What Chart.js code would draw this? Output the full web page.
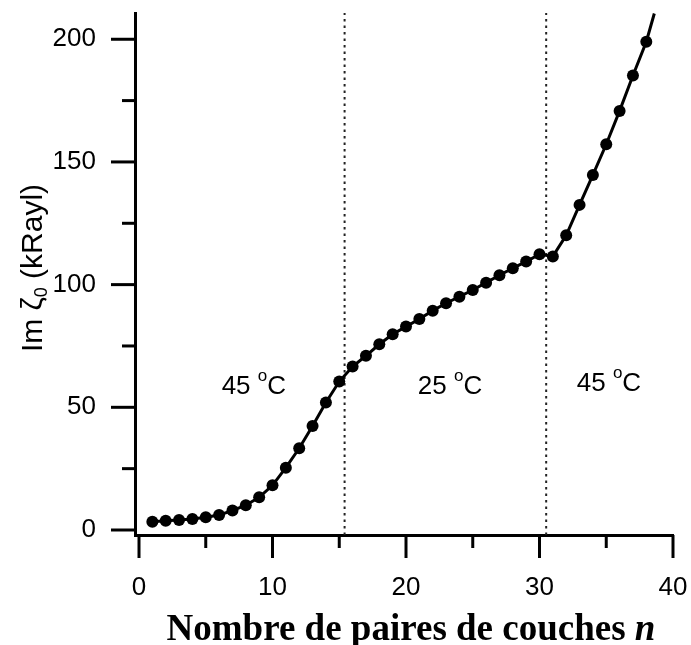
<!DOCTYPE html>
<html><head><meta charset="utf-8">
<script src="https://cdn.jsdelivr.net/npm/chart.js@4"></script>
<style>html,body{margin:0;padding:0;background:#fff;}</style>
</head><body>
<canvas id="c" width="691" height="645"></canvas>
<script>
// ---- data ----
const pairCounts = [1,2,3,4,5,6,7,8,9,10,11,12,13,14,15,16,17,18,19,20,21,22,23,24,25,26,27,28,29,30,31,32,33,34,35,36,37,38];
const imZeta = [3.4,3.8,4.1,4.5,5.2,6.1,7.9,10.1,13.3,18.2,25.4,33.3,42.4,52.0,60.5,66.6,71.0,75.7,79.8,82.9,86.0,89.4,92.4,95.1,97.8,100.8,103.8,106.7,109.4,112.4,111.5,120.1,132.5,144.7,157.2,170.8,185.2,199.0];
const curveEndX = 38.6;
const curveEndY = 210.5;
const regionBoundaries = [15.4, 30.5];
const xMajorTicks = [0,10,20,30,40];
const xMinorTicks = [5,15,25,35];
const yMajorTicks = [0,50,100,150,200];
const yMinorTicks = [25,75,125,175];
const xRange = [-0.3, 40];
const yRange = [-2.04, 210.7];
const tempValues = ['45','25','45'];
const tempLabelX = [8.6, 23.3, 35.2];
const tempLabelY = [59.1, 59.1, 60.4];
const xTitleMain = 'Nombre de paires de couches ';
const xTitleVar = 'n';
const yTitleParts = ['Im ζ', '0', ' (kRayl)'];

const SANS = "'Liberation Sans', Arial, sans-serif";
const SERIF = "'Liberation Serif', 'Times New Roman', serif";

const mainData = pairCounts.map((n, i) => ({x: n, y: imZeta[i]}));
mainData.push({x: curveEndX, y: curveEndY});

const boundaryDatasets = regionBoundaries.map(b => ({
  data: [{x: b, y: yRange[0]}, {x: b, y: yRange[1]}],
  showLine: true, borderColor: '#222', borderWidth: 2, borderDash: [2.5, 4],
  pointRadius: 0, fill: false
}));

const zeroPadding = s => { s.paddingTop = 0; s.paddingBottom = 0; s.paddingLeft = 0; s.paddingRight = 0; };

const decorPlugin = {
  id: 'decor',
  afterDraw(chart) {
    const ctx = chart.ctx;
    const xs = chart.scales.x, ys = chart.scales.y;
    const ca = chart.chartArea;
    ctx.save();
    ctx.strokeStyle = '#000';
    ctx.lineWidth = 3;
    ctx.lineCap = 'butt';
    // x ticks
    const xb = ca.bottom;
    xMajorTicks.forEach(v => { const p = xs.getPixelForValue(v); ctx.beginPath(); ctx.moveTo(p, xb); ctx.lineTo(p, xb + 23); ctx.stroke(); });
    xMinorTicks.forEach(v => { const p = xs.getPixelForValue(v); ctx.beginPath(); ctx.moveTo(p, xb); ctx.lineTo(p, xb + 13); ctx.stroke(); });
    // y ticks
    const yl = ca.left;
    yMajorTicks.forEach(v => { const p = ys.getPixelForValue(v); ctx.beginPath(); ctx.moveTo(yl, p); ctx.lineTo(yl - 24, p); ctx.stroke(); });
    yMinorTicks.forEach(v => { const p = ys.getPixelForValue(v); ctx.beginPath(); ctx.moveTo(yl, p); ctx.lineTo(yl - 13, p); ctx.stroke(); });

    ctx.fillStyle = '#000';
    // temperature labels
    tempValues.forEach((t, i) => {
      const cx = xs.getPixelForValue(tempLabelX[i]);
      const cy = ys.getPixelForValue(tempLabelY[i]);
      ctx.font = '26px ' + SANS;
      const a = t + ' ';
      const wa = ctx.measureText(a).width;
      const wc = ctx.measureText('C').width;
      ctx.font = '17px ' + SANS;
      const wd = ctx.measureText('o').width;
      const total = wa + wd + wc;
      let x0 = cx - total / 2;
      ctx.textBaseline = 'alphabetic';
      ctx.textAlign = 'left';
      const base = cy + 9;
      ctx.font = '26px ' + SANS;
      ctx.fillText(a, x0, base);
      ctx.font = '17px ' + SANS;
      ctx.fillText('o', x0 + wa, base - 13);
      ctx.font = '26px ' + SANS;
      ctx.fillText('C', x0 + wa + wd, base);
    });

    // x title
    ctx.font = 'bold 37px ' + SERIF;
    const w1 = ctx.measureText(xTitleMain).width;
    ctx.font = 'bold italic 37px ' + SERIF;
    const w2 = ctx.measureText(xTitleVar).width;
    const tcx = (ca.left + ca.right) / 2 + 7;
    let tx = tcx - (w1 + w2) / 2;
    ctx.textBaseline = 'alphabetic';
    ctx.textAlign = 'left';
    ctx.font = 'bold 37px ' + SERIF;
    ctx.fillText(xTitleMain, tx, 640);
    ctx.font = 'bold italic 37px ' + SERIF;
    ctx.fillText(xTitleVar, tx + w1, 640);

    // y title (rotated, with subscript)
    ctx.save();
    ctx.translate(42, (ca.top + ca.bottom) / 2 - 6);
    ctx.rotate(-Math.PI / 2);
    ctx.font = '30px ' + SANS;
    const p1 = ctx.measureText(yTitleParts[0]).width;
    const p3 = ctx.measureText(yTitleParts[2]).width;
    ctx.font = '18px ' + SANS;
    const p2 = ctx.measureText(yTitleParts[1]).width;
    let sx = -(p1 + p2 + p3) / 2;
    ctx.font = '30px ' + SANS;
    ctx.fillText(yTitleParts[0], sx, 0);
    ctx.font = '18px ' + SANS;
    ctx.fillText(yTitleParts[1], sx + p1, 5);
    ctx.font = '30px ' + SANS;
    ctx.fillText(yTitleParts[2], sx + p1 + p2, 0);
    ctx.restore();

    ctx.restore();
  }
};

new Chart(document.getElementById('c'), {
  type: 'scatter',
  data: {
    datasets: [
      {
        data: mainData,
        showLine: true,
        borderColor: '#000',
        backgroundColor: '#000',
        borderWidth: 3,
        tension: 0,
        pointRadius: ctx => ctx.dataIndex < pairCounts.length ? 6 : 0,
        pointBorderWidth: 0,
        pointBackgroundColor: '#000'
      },
      ...boundaryDatasets
    ]
  },
  options: {
    responsive: false,
    animation: false,
    devicePixelRatio: 1,
    layout: { autoPadding: false, padding: { top: 13, right: 18, left: 0, bottom: 0 } },
    plugins: { legend: { display: false }, tooltip: { enabled: false } },
    scales: {
      x: {
        type: 'linear', position: 'bottom',
        min: xRange[0], max: xRange[1],
        afterBuildTicks: s => { s.ticks = xMajorTicks.map(v => ({value: v})); },
        afterFit: s => { s.height = 110; zeroPadding(s); },
        grid: { drawOnChartArea: false, drawTicks: false, color: 'rgba(0,0,0,0)' },
        border: { display: true, color: '#000', width: 3 },
        ticks: { color: '#000', font: { family: SANS, size: 26 }, padding: 37, maxRotation: 0, autoSkip: false }
      },
      y: {
        type: 'linear', position: 'left',
        min: yRange[0], max: yRange[1],
        afterBuildTicks: s => { s.ticks = yMajorTicks.map(v => ({value: v})); },
        afterFit: s => { s.width = 135; zeroPadding(s); },
        grid: { drawOnChartArea: false, drawTicks: false, color: 'rgba(0,0,0,0)' },
        border: { display: true, color: '#000', width: 3 },
        ticks: { color: '#000', font: { family: SANS, size: 26 }, padding: 39, autoSkip: false }
      }
    }
  },
  plugins: [decorPlugin]
});
</script>
</body></html>
